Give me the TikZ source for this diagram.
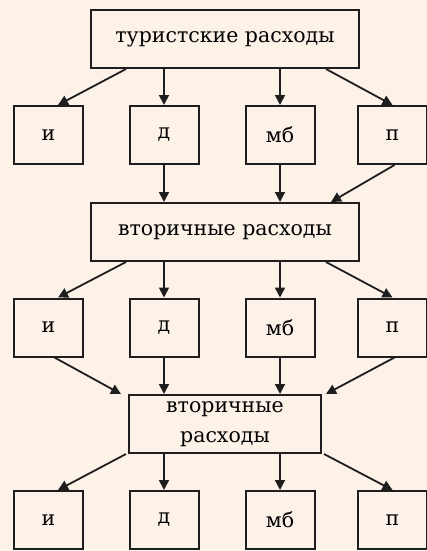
\documentclass[tikz,border=0pt]{standalone}
\usepackage{fontspec}
\setmainfont{DejaVu Serif}
\usetikzlibrary{arrows.meta}
\definecolor{paper}{RGB}{252,242,232}
\definecolor{ink}{RGB}{30,30,30}
\tikzset{
    box/.style={draw=ink, fill=paper, line width=2pt, inner sep=0pt,
        minimum height=58pt, align=center,
        font=\fontsize{20.5}{30}\selectfont},
    small/.style={box, minimum width=69pt},
    big/.style={box, minimum width=268pt},
    arr/.style={draw=ink, line width=1.8pt, -{Triangle[width=10pt,length=10pt]}}
}
\begin{document}
\begin{tikzpicture}[x=1pt, y=-1pt]
        \fill[paper] (0, 0) rectangle (427, 551);
        \useasboundingbox (0, 0) rectangle (427, 551);
        % boxes
        \node[big] (tour) at (225, 39) {туристские расходы};
        \node[big] (sec) at (225, 232) {вторичные расходы};
        \node[box, minimum width=192pt] (sec2) at (225, 424) {вторичные\\расходы};
        \foreach \n/\t/\x in {i/и/48.5, d/д/164, mb/мб/280, p/п/392.5} {
                \node[small] (\n1) at (\x, 135) {\t};
                \node[small] (\n2) at (\x, 327.5) {\t};
                \node[small] (\n3) at (\x, 520) {\t};
            }
        % from top box
        \draw[arr] ([xshift=36pt]tour.south west) -- ([xshift=9.5pt]i1.north);
        \draw[arr] (tour.south -| d1.north) -- (d1.north);
        \draw[arr] (tour.south -| mb1.north) -- (mb1.north);
        \draw[arr] ([xshift=-34pt]tour.south east) -- (p1.north);
        % into second box
        \draw[arr] (d1.south) -- (d1.south |- sec.north);
        \draw[arr] (mb1.south) -- (mb1.south |- sec.north);
        \draw[arr] ([xshift=2pt]p1.south) -- ([xshift=-29pt]sec.north east);
        % from second box
        \draw[arr] ([xshift=36pt]sec.south west) -- ([xshift=9.5pt]i2.north);
        \draw[arr] (sec.south -| d2.north) -- (d2.north);
        \draw[arr] (sec.south -| mb2.north) -- (mb2.north);
        \draw[arr] ([xshift=-34pt]sec.south east) -- (p2.north);
        % into third box
        \draw[arr] ([xshift=6pt]i2.south) -- ([xshift=-7pt]sec2.north west);
        \draw[arr] (d2.south) -- (d2.south |- sec2.north);
        \draw[arr] (mb2.south) -- (mb2.south |- sec2.north);
        \draw[arr] ([xshift=2pt]p2.south) -- ([xshift=4pt]sec2.north east);
        % from third box
        \draw[arr] ([xshift=-2pt]sec2.south west) -- ([xshift=9.5pt]i3.north);
        \draw[arr] (sec2.south -| d3.north) -- (d3.north);
        \draw[arr] (sec2.south -| mb3.north) -- (mb3.north);
        \draw[arr] ([xshift=2pt]sec2.south east) -- (p3.north);
    \end{tikzpicture}
\end{document}
